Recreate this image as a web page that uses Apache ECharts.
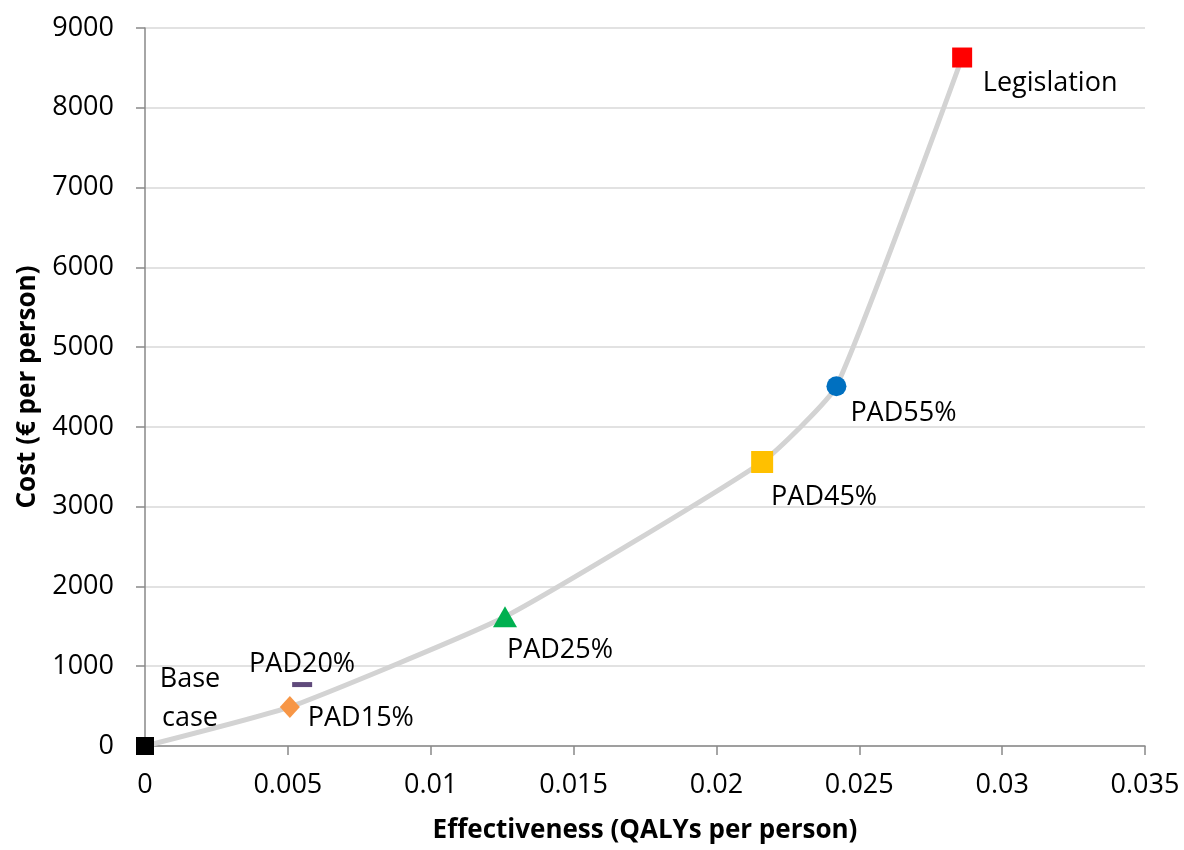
<!DOCTYPE html>
<html>
<head>
<meta charset="utf-8">
<script src="https://cdn.jsdelivr.net/npm/echarts@6/dist/echarts.min.js"></script>
<style>
  html, body { margin: 0; padding: 0; background: #ffffff; }
  #chart { width: 1184px; height: 850px; }
</style>
</head>
<body>
<div id="chart"></div>
<script>
// Strategies, their effectiveness (QALYs per person) and cost (€ per person)
const strategies = ['Base case', 'PAD15%', 'PAD20%', 'PAD25%', 'PAD45%', 'PAD55%', 'Legislation'];
const effectiveness = [0, 0.00507, 0.0055, 0.0126, 0.0216, 0.0242, 0.0286];
const costs = [0, 490, 770, 1620, 3560, 4510, 8630];
// Strategies lying on the efficiency frontier, in order
const frontier = ['Base case', 'PAD15%', 'PAD25%', 'PAD45%', 'PAD55%', 'Legislation'];
// Axis tick values
const xTicks = [0, 0.005, 0.01, 0.015, 0.02, 0.025, 0.03, 0.035];
const yTicks = [0, 1000, 2000, 3000, 4000, 5000, 6000, 7000, 8000, 9000];

const FONT = 'Open Sans';

// Marker look and label placement for each strategy
const markerStyle = {
  'Base case':   { symbol: 'rect', size: 18, color: '#000000', offset: [45, -47], text: 'Base\ncase' },
  'PAD15%':      { symbol: 'diamond', size: [20, 22], color: '#F79646', offset: [71, 11] },
  'PAD20%':      { symbol: 'rect', size: [20, 5], color: '#604A7B', offset: [0, -20] },
  'PAD25%':      { symbol: 'triangle', size: [24, 21], color: '#00B050', offset: [55, 34] },
  'PAD45%':      { symbol: 'rect', size: 22, color: '#FFC000', offset: [62, 35] },
  'PAD55%':      { symbol: 'circle', size: 20, color: '#0070C0', offset: [67, 27] },
  'Legislation': { symbol: 'rect', size: 20, color: '#FF0000', offset: [88, 26] }
};

const frontierData = frontier.map(function (n) {
  const i = strategies.indexOf(n);
  return [effectiveness[i], costs[i]];
});

const markerSeries = strategies.map(function (n, i) {
  const s = markerStyle[n];
  return {
    type: 'scatter',
    name: n,
    z: 5,
    symbol: s.symbol,
    symbolSize: s.size,
    itemStyle: { color: s.color, opacity: 1 },
    data: [[effectiveness[i], costs[i]]],
    label: {
      show: true,
      position: 'inside',
      offset: s.offset,
      align: 'center',
      verticalAlign: 'middle',
      formatter: s.text || n,
      color: '#000000',
      fontFamily: FONT,
      fontSize: 27,
      lineHeight: 39
    },
    emphasis: { disabled: true }
  };
});

const chart = echarts.init(document.getElementById('chart'), null, { renderer: 'canvas' });
chart.setOption({
  backgroundColor: '#ffffff',
  animation: false,
  grid: { left: 145, right: 39, top: 28, bottom: 104, containLabel: false, outerBoundsMode: 'none' },
  xAxis: {
    type: 'value',
    min: xTicks[0],
    max: xTicks[xTicks.length - 1],
    interval: 0.005,
    name: 'Effectiveness (QALYs per person)',
    nameLocation: 'middle',
    nameGap: 72,
    nameTextStyle: { fontFamily: FONT, fontWeight: 'bold', fontSize: 26, color: '#000000' },
    axisLine: { show: true, lineStyle: { color: '#898989', width: 1.5 } },
    axisTick: { show: true, length: 9, lineStyle: { color: '#898989', width: 1.5 } },
    axisLabel: {
      margin: 26,
      fontFamily: FONT, fontSize: 27, color: '#000000',
      formatter: function (v) { return String(parseFloat(v.toFixed(3))); }
    },
    splitLine: { show: false }
  },
  yAxis: {
    type: 'value',
    min: yTicks[0],
    max: yTicks[yTicks.length - 1],
    interval: 1000,
    name: 'Cost (€ per person)',
    nameLocation: 'middle',
    nameGap: 104,
    nameRotate: 90,
    nameTextStyle: { fontFamily: FONT, fontWeight: 'bold', fontSize: 26, color: '#000000' },
    axisLine: { show: true, lineStyle: { color: '#898989', width: 1.5 } },
    axisTick: { show: true, length: 9, lineStyle: { color: '#898989', width: 1.5 } },
    axisLabel: {
      margin: 31, fontFamily: FONT, fontSize: 27, color: '#000000',
      formatter: function (v) { return String(v); }
    },
    splitLine: { show: true, lineStyle: { color: '#d9d9d9', width: 1.5 } }
  },
  series: [{
    type: 'line',
    name: 'frontier',
    z: 2,
    data: frontierData,
    smooth: 0.15,
    showSymbol: false,
    symbol: 'none',
    lineStyle: { color: '#d3d3d3', width: 5 },
    emphasis: { disabled: true }
  }].concat(markerSeries)
});
</script>
</body>
</html>
